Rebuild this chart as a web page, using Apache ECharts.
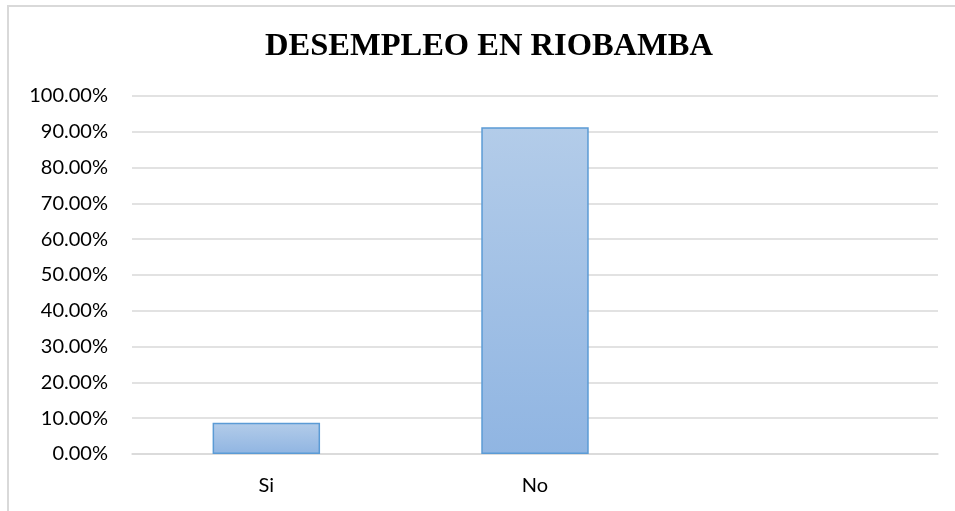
<!DOCTYPE html>
<html>
<head>
<meta charset="utf-8">
<script src="https://cdn.jsdelivr.net/npm/echarts@6/dist/echarts.min.js"></script>
<style>
    html, body { margin: 0; padding: 0; background: #fff; }
    #myChart { width: 955px; height: 511px; }
</style>
</head>
<body>
<div id="myChart"></div>
<script>
    var titleText = 'DESEMPLEO EN RIOBAMBA';
    var categories = ['Si', 'No', ''];
    var porcentajes = [8.75, 91.25, null];
    var yTicks = [0, 10, 20, 30, 40, 50, 60, 70, 80, 90, 100];

    var myChart = echarts.init(document.getElementById('myChart'));

    var option = {
        animation: false,
        backgroundColor: '#fff',
        title: {
            text: titleText,
            left: 484,
            top: 25,
            textAlign: 'center',
            textStyle: {
                fontFamily: 'Liberation Serif',
                fontWeight: 'bold',
                fontSize: 32.5,
                color: '#000'
            }
        },
        graphic: [
            {
                type: 'polyline',
                shape: { points: [[8, 511], [8, 6], [955, 6]] },
                style: { stroke: '#d9d9d9', lineWidth: 2, fill: null },
                silent: true
            }
        ],
        grid: {
            left: 132,
            right: 17,
            top: 96,
            bottom: 57
        },
        xAxis: {
            type: 'category',
            data: categories,
            axisTick: { show: false },
            axisLine: { lineStyle: { color: '#d9d9d9', width: 1.5 } },
            axisLabel: {
                margin: 22,
                fontFamily: 'Lato',
                fontSize: 20,
                color: '#000'
            }
        },
        yAxis: {
            type: 'value',
            min: yTicks[0],
            max: yTicks[yTicks.length - 1],
            interval: 10,
            axisLine: { show: false },
            axisTick: { show: false },
            axisLabel: {
                margin: 24,
                fontFamily: 'Lato',
                fontSize: 20,
                color: '#000',
                formatter: function (v) { return v.toFixed(2) + '%'; }
            },
            splitLine: { lineStyle: { color: '#d9d9d9', width: 1.5 } }
        },
        series: [
            {
                type: 'bar',
                data: porcentajes,
                barWidth: '40%',
                itemStyle: {
                    color: new echarts.graphic.LinearGradient(0, 0, 0, 1, [
                        { offset: 0, color: '#b3cce9' },
                        { offset: 1, color: '#90b5e2' }
                    ]),
                    borderColor: '#5b9bd5',
                    borderWidth: 1.5
                }
            }
        ]
    };

    myChart.setOption(option);
</script>
</body>
</html>
